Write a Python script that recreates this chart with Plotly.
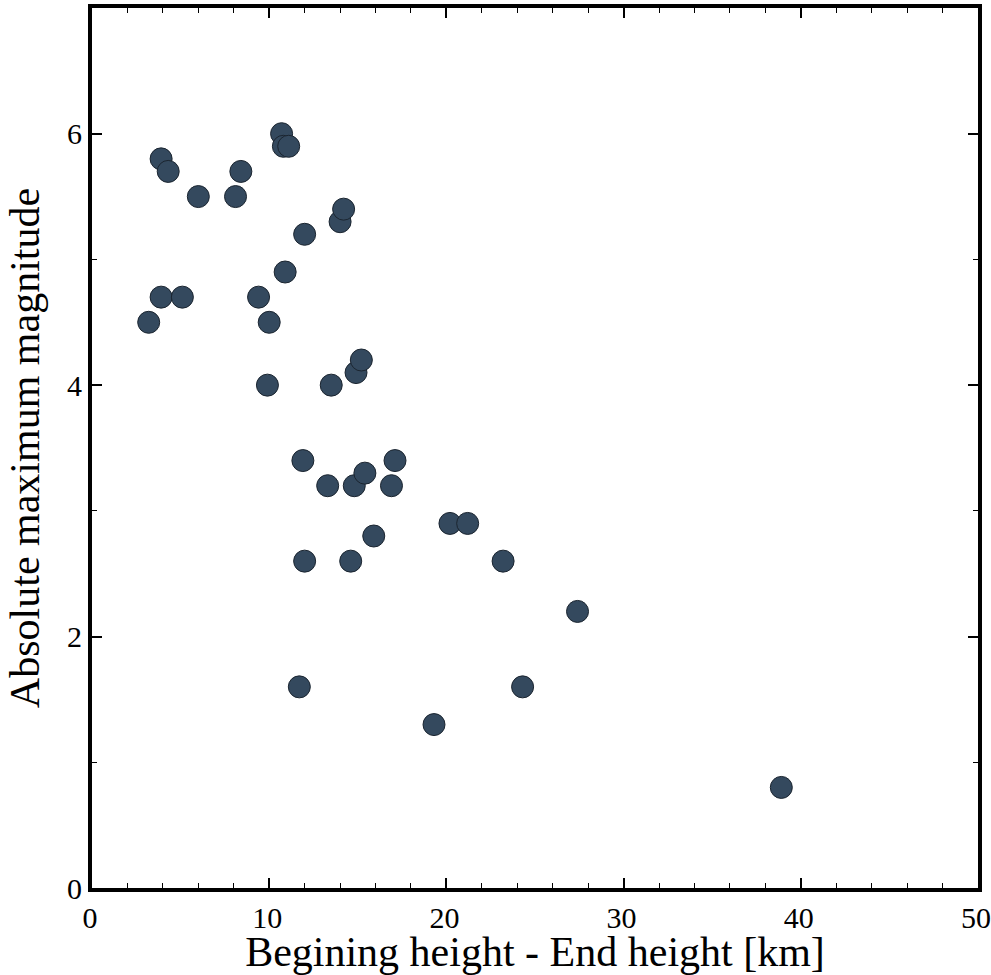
import plotly.graph_objects as go

# Height difference (begin - end) in km and absolute maximum magnitude per meteor
height_diff_km = [3.2, 3.9, 5.1, 3.9, 4.3, 6.0, 8.1, 8.4, 9.4, 10.0,
                  9.9, 10.7, 10.8, 11.1, 10.9, 12.0, 14.0, 14.2, 13.5, 14.9,
                  15.2, 11.9, 13.3, 14.8, 15.4, 16.9, 17.1, 15.9, 12.0, 14.6,
                  20.2, 21.2, 23.2, 27.4, 11.7, 19.3, 24.3, 38.9]
abs_max_mag = [4.5, 4.7, 4.7, 5.8, 5.7, 5.5, 5.5, 5.7, 4.7, 4.5,
               4.0, 6.0, 5.9, 5.9, 4.9, 5.2, 5.3, 5.4, 4.0, 4.1,
               4.2, 3.4, 3.2, 3.2, 3.3, 3.2, 3.4, 2.8, 2.6, 2.6,
               2.9, 2.9, 2.6, 2.2, 1.6, 1.3, 1.6, 0.8]

x_ticks = [0, 10, 20, 30, 40, 50]
y_ticks = [0, 2, 4, 6]

font_family = "Liberation Serif, Times New Roman, serif"

fig = go.Figure(
    go.Scatter(
        x=height_diff_km,
        y=abs_max_mag,
        mode="markers",
        marker=dict(size=22, color="#34495e", line=dict(color="#1b2530", width=1)),
        hoverinfo="x+y",
    )
)

axis_common = dict(
    showline=True,
    linecolor="black",
    linewidth=4,
    mirror="ticks",
    ticks="inside",
    ticklen=10,
    tickwidth=2,
    tickcolor="black",
    showgrid=False,
    zeroline=False,
    automargin=False,
    ticklabeloverflow="allow",
    tickfont=dict(family=font_family, size=30, color="black"),
)

fig.update_xaxes(
    range=[0, 50],
    tickvals=x_ticks,
    ticktext=[str(v) for v in x_ticks],
    ticklabelshift=-2,
    minor=dict(ticks="inside", ticklen=5, tickwidth=1, dtick=2, tickcolor="black"),
    title=dict(text="Begining height - End height [km]",
               font=dict(family=font_family, size=42, color="black")),
    **axis_common,
)
fig.update_yaxes(
    range=[0, 7],
    tickvals=y_ticks,
    ticktext=[str(v) for v in y_ticks],
    minor=dict(ticks="inside", ticklen=5, tickwidth=1, dtick=1, tickcolor="black"),
    title=dict(text="Absolute maximum magnitude",
               font=dict(family=font_family, size=42, color="black")),
    **axis_common,
)

fig.update_layout(
    width=991,
    height=975,
    margin=dict(l=92, r=13, t=8, b=87),
    plot_bgcolor="white",
    paper_bgcolor="white",
    showlegend=False,
)

fig.write_html("out.html")
